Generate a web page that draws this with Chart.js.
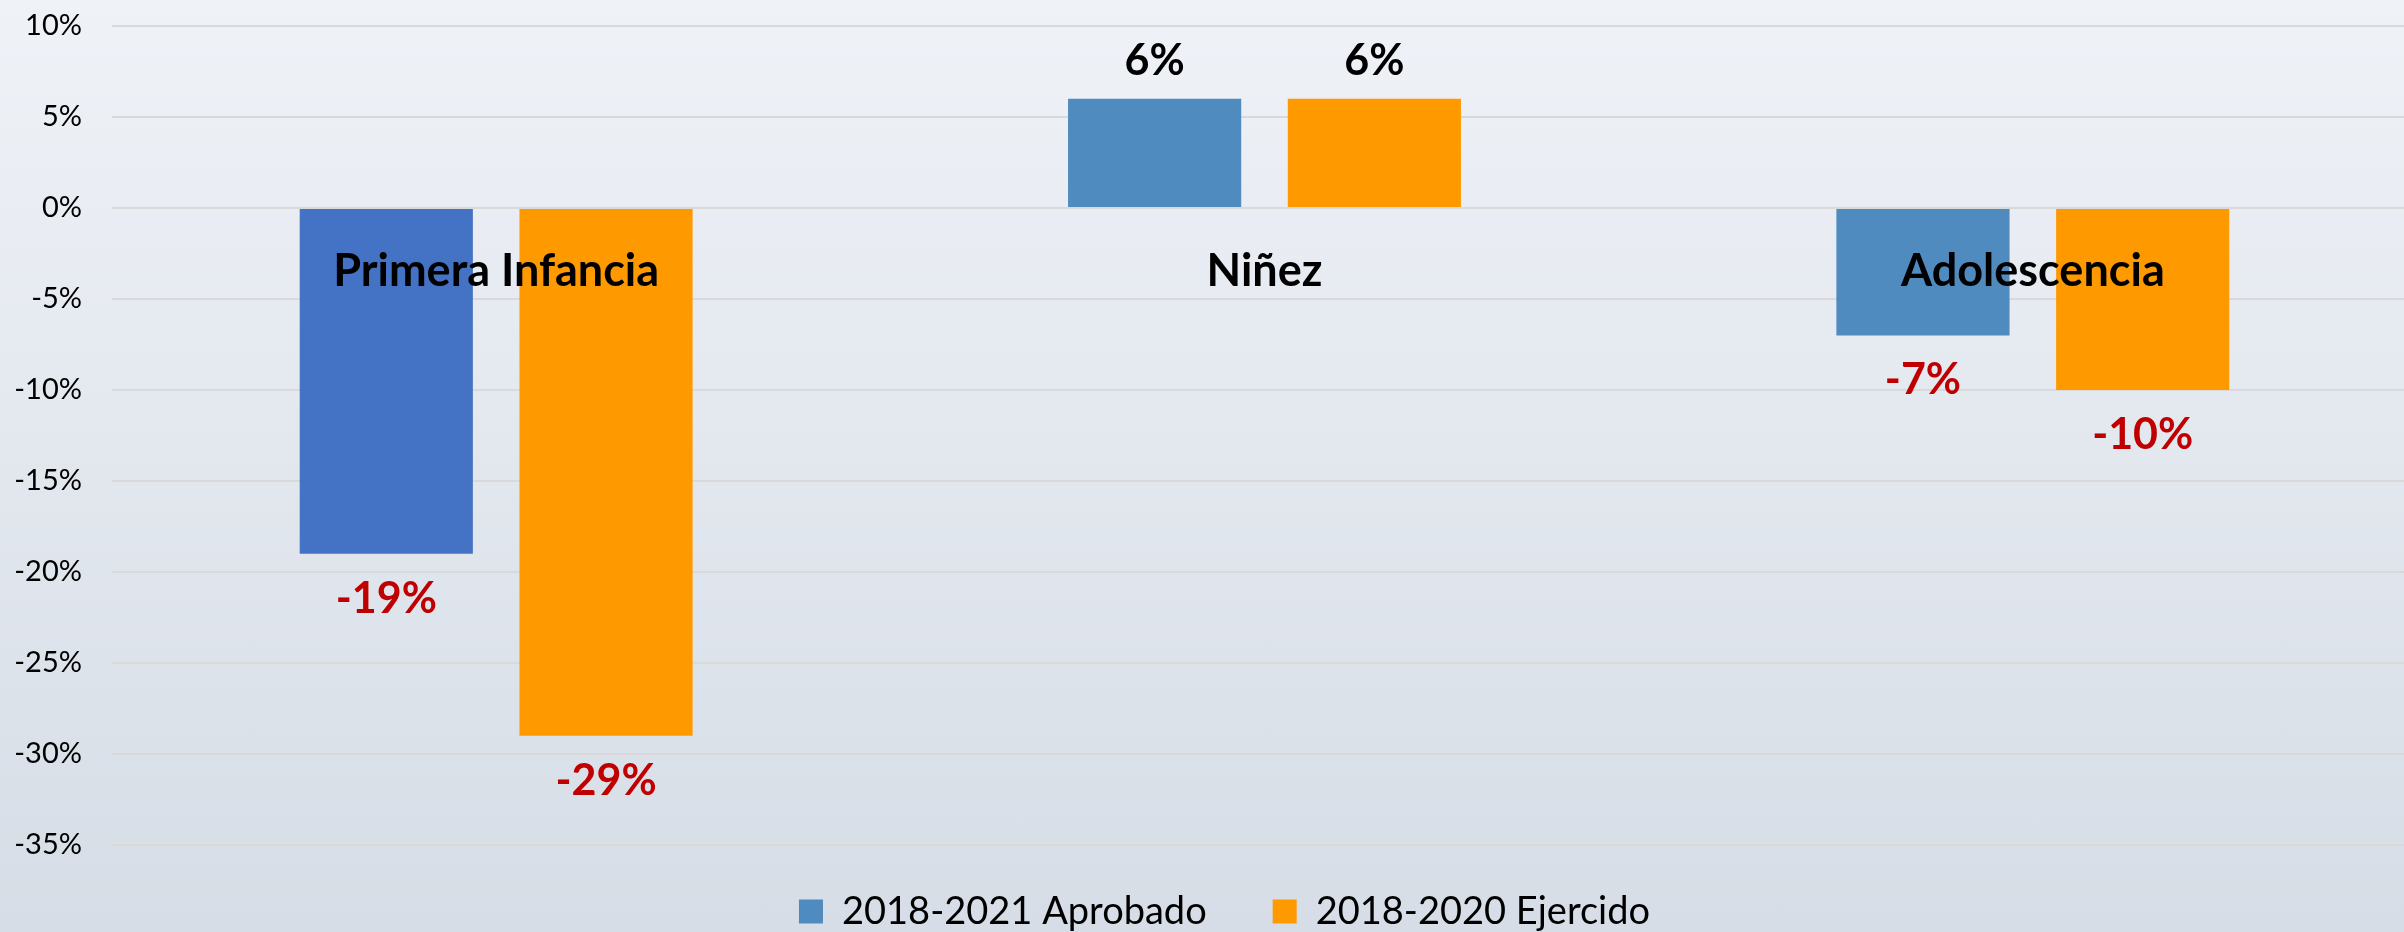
<!DOCTYPE html>
<html><head><meta charset="utf-8">
<script src="https://cdn.jsdelivr.net/npm/chart.js@4.4.1/dist/chart.umd.min.js"></script>
<style>
html,body{margin:0;padding:0;width:2404px;height:932px;overflow:hidden;background:linear-gradient(180deg,#EFF2F7 0%,#D6DDE6 100%);}
#wrap{position:relative;width:2417px;height:932px;}
</style></head><body><div id="wrap"><canvas id="c"></canvas></div>
<script>
const categories = ['Primera Infancia', 'Niñez', 'Adolescencia'];
const seriesNames = ['2018-2021 Aprobado', '2018-2020 Ejercido'];
const aprobado = [-19, 6, -7];
const ejercido = [-29, 6, -10];
const yMin = -35, yMax = 10, yStep = 5;
const aprobadoColors = ['#4472C4', '#4F8BBE', '#4F8BBE'];
const ejercidoColor = '#FF9900';

Chart.defaults.font.family = 'Lato';

const labelPlugin = {
  id: 'valueAndCategoryLabels',
  afterDatasetsDraw(chart) {
    const ctx = chart.ctx, xs = chart.scales.x, ys = chart.scales.y;
    ctx.save();
    ctx.textAlign = 'center';
    ctx.textBaseline = 'alphabetic';
    ctx.font = 'bold 43px Lato';
    chart.data.datasets.forEach((ds, di) => {
      const meta = chart.getDatasetMeta(di);
      meta.data.forEach((bar, i) => {
        const v = ds.data[i];
        if (v >= 0) { ctx.fillStyle = '#000000'; ctx.fillText(v + '%', bar.x, bar.y - 24); }
        else { ctx.fillStyle = '#C00000'; ctx.fillText(v + '%', bar.x, bar.y + 59); }
      });
    });
    const y0 = ys.getPixelForValue(0);
    ctx.fillStyle = '#000000';
    ctx.font = 'bold 45px Lato';
    categories.forEach((c, i) => ctx.fillText(c, xs.getPixelForValue(i), y0 + 78));
    ctx.restore();
  }
};

const legendFix = {
  id: 'legendFix',
  beforeLayout(chart) {
    const lg = chart.legend;
    if (lg && !lg._patched) {
      const f = lg.fit;
      lg.fit = function () { f.call(this); this.height = 87; };
      lg._patched = true;
    }
  },
  afterLayout(chart) {
    const lg = chart.legend;
    if (!lg) return;
    lg.top = 826.5; lg.bottom = 932; lg.height = lg.bottom - lg.top;
    lg.left += 16; lg.right += 16;
  }
};

new Chart(document.getElementById('c'), {
  type: 'bar',
  data: {
    labels: categories,
    datasets: [
      { label: seriesNames[0], data: aprobado, backgroundColor: aprobadoColors, borderWidth: 0 },
      { label: seriesNames[1], data: ejercido, backgroundColor: ejercidoColor, borderWidth: 0 }
    ]
  },
  options: {
    responsive: true,
    maintainAspectRatio: false,
    animation: false,
    layout: { padding: { top: 26, right: 0, bottom: 0, left: 0 } },
    datasets: { bar: { categoryPercentage: 0.572, barPercentage: 0.788 } },
    scales: {
      x: { display: false },
      y: {
        min: yMin, max: yMax,
        afterFit: s => { s.width = 112; },
        ticks: { stepSize: yStep, padding: 0, color: '#000000', font: { size: 29 }, callback: v => v + '%' },
        grid: { color: '#D9D9D9', lineWidth: 2, drawTicks: true, tickLength: 30, tickColor: 'rgba(0,0,0,0)' },
        border: { display: false }
      }
    },
    plugins: {
      legend: {
        position: 'bottom',
        labels: {
          color: '#000000', font: { size: 38 }, boxWidth: 24, boxHeight: 24, padding: 66,
          generateLabels: chart => chart.data.datasets.map((ds, i) => ({
            text: ds.label,
            fillStyle: i === 0 ? '#4F8BBE' : ejercidoColor,
            strokeStyle: 'rgba(0,0,0,0)', lineWidth: 0, hidden: false, datasetIndex: i
          }))
        }
      },
      tooltip: { enabled: false }
    }
  },
  plugins: [labelPlugin, legendFix]
});
</script></body></html>
